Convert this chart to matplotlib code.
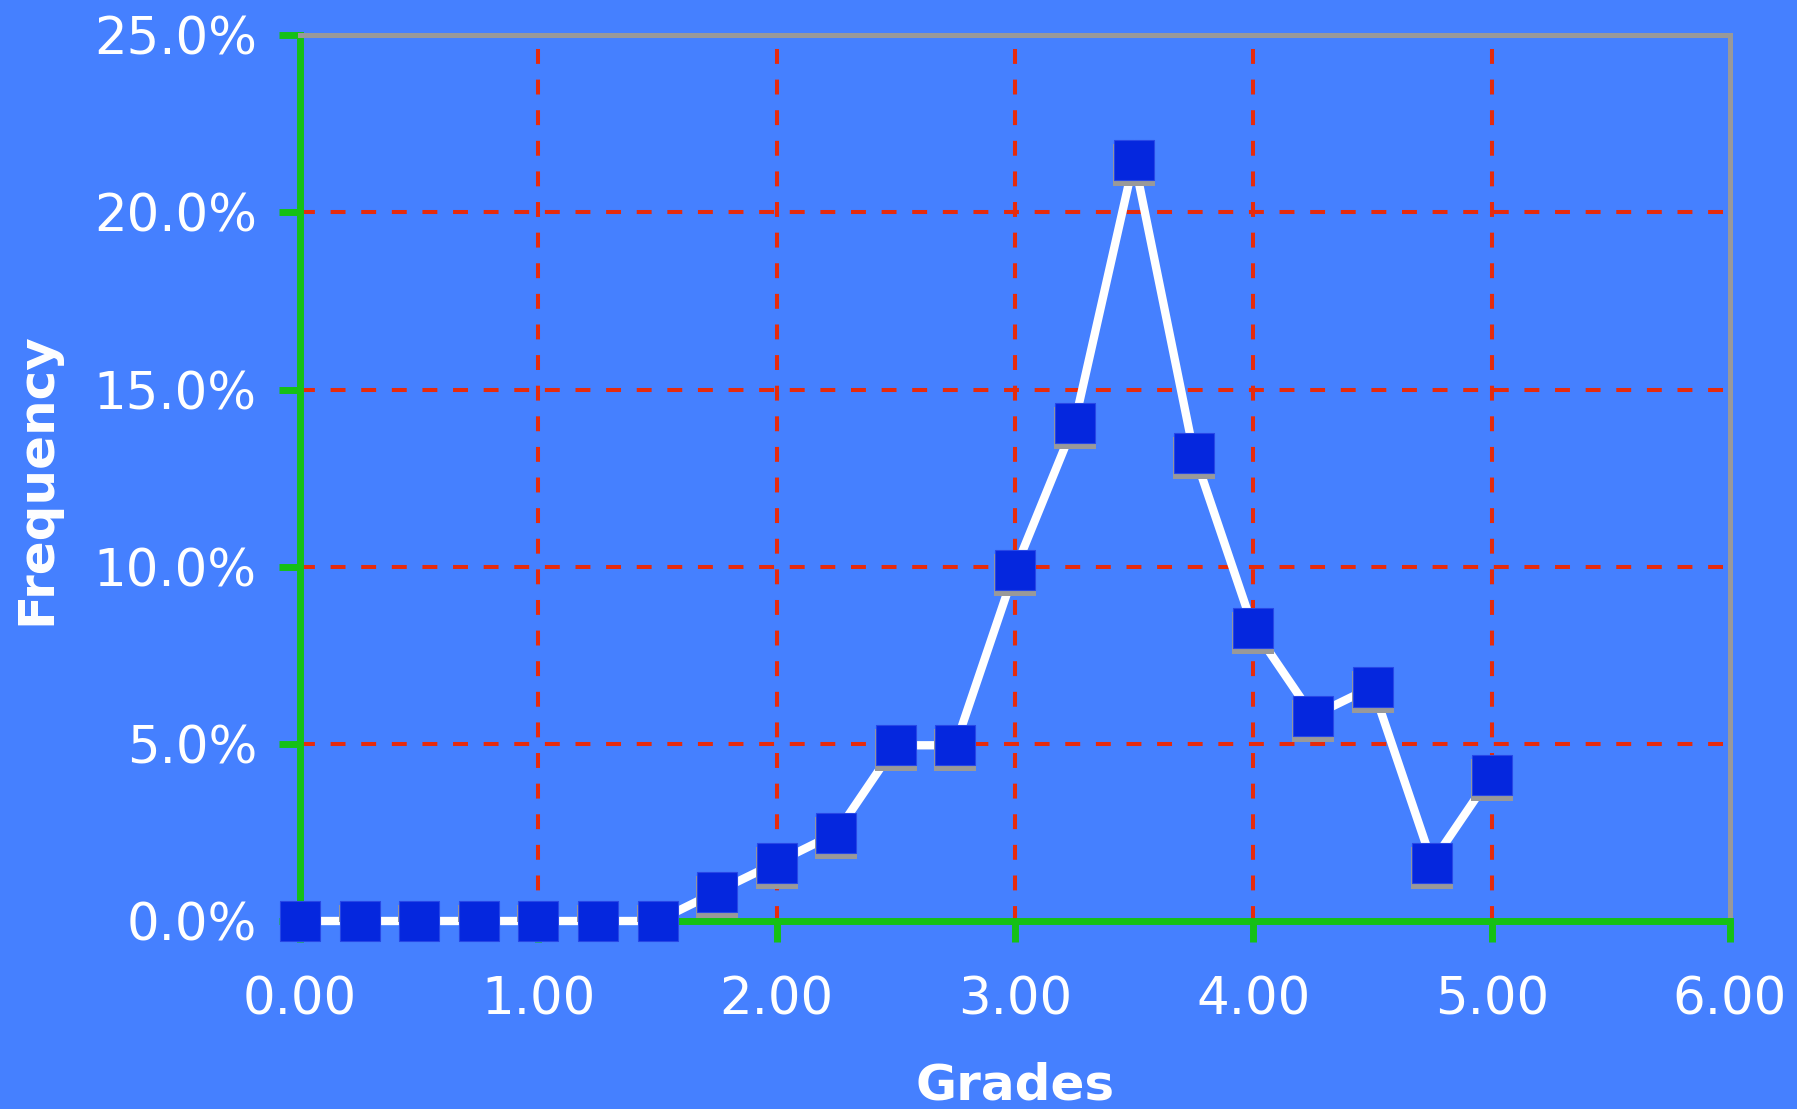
import matplotlib
matplotlib.use("Agg")
import matplotlib.pyplot as plt
from matplotlib.ticker import FuncFormatter
import matplotlib.transforms as mtransforms

# Grade distribution (share of students at each grade point)
grades = [0.00, 0.25, 0.50, 0.75, 1.00, 1.25, 1.50, 1.75, 2.00, 2.25, 2.50,
          2.75, 3.00, 3.25, 3.50, 3.75, 4.00, 4.25, 4.50, 4.75, 5.00]
frequency = [0.00, 0.00, 0.00, 0.00, 0.00, 0.00, 0.00, 0.83, 1.65, 2.48, 4.96,
             4.96, 9.92, 14.05, 21.49, 13.22, 8.26, 5.79, 6.61, 1.65, 4.13]

x_ticks = [0, 1, 2, 3, 4, 5, 6]
y_ticks = [0, 5, 10, 15, 20, 25]

BG = "#4580FF"
GREEN = "#15C015"
GRAY = "#999999"
RED = "#E62B0C"
MARKER = "#0527DE"

plt.rcParams["font.family"] = ["DejaVu Sans"]

fig = plt.figure(figsize=(17.97, 11.09), dpi=100, facecolor=BG)
ax = fig.add_axes([300 / 1797, 1 - 921 / 1109, 1430 / 1797, (921 - 35.3) / 1109])
ax.set_facecolor(BG)

ax.set_xlim(0, 6)
ax.set_ylim(0, 25)
ax.set_xticks(x_ticks)
ax.set_yticks(y_ticks)
ax.xaxis.set_major_formatter(FuncFormatter(lambda v, p: f"{v:.2f}"))
ax.yaxis.set_major_formatter(FuncFormatter(lambda v, p: f"{v:.1f}%"))

# dashed red grid
dash = (0, (3.7, 3.9))
for xv in x_ticks[1:-1]:
    ax.axvline(xv, color=RED, lw=2.9, linestyle=dash, zorder=1)
for yv in y_ticks[1:-1]:
    ax.axhline(yv, color=RED, lw=2.9, linestyle=dash, zorder=1)

# spines
for side in ("left", "bottom"):
    ax.spines[side].set_color(GREEN)
    ax.spines[side].set_linewidth(5)
for side in ("top", "right"):
    ax.spines[side].set_color(GRAY)
    ax.spines[side].set_linewidth(3.6)

ax.tick_params(axis="both", direction="out", color=GREEN, width=5, length=15,
               labelcolor="white", labelsize=37)
ax.tick_params(axis="y", pad=16)
ax.tick_params(axis="x", pad=24)

ax.set_xlabel("Grades", fontsize=36, fontweight="bold", color="white", labelpad=26)
ax.set_ylabel("Frequency", fontsize=36, fontweight="bold", color="white", labelpad=24)

# connecting line
ax.plot(grades, frequency, color="white", lw=6, zorder=4, clip_on=False,
        solid_joinstyle="miter")

# marker drop shadows (shifted down a few pixels)
shadow = mtransforms.offset_copy(ax.transData, fig=fig, x=0, y=-5, units="dots")
ax.plot(grades, frequency, linestyle="none", marker="s", markersize=30,
        markerfacecolor=GRAY, markeredgecolor=GRAY, markeredgewidth=0,
        transform=shadow, zorder=5, clip_on=True)

# square markers
ax.plot(grades, frequency, linestyle="none", marker="s", markersize=29.5,
        markerfacecolor=MARKER, markeredgecolor="#2747E6", markeredgewidth=0.8,
        zorder=6, clip_on=False)

fig.savefig("out.png", dpi=100, facecolor=BG)
